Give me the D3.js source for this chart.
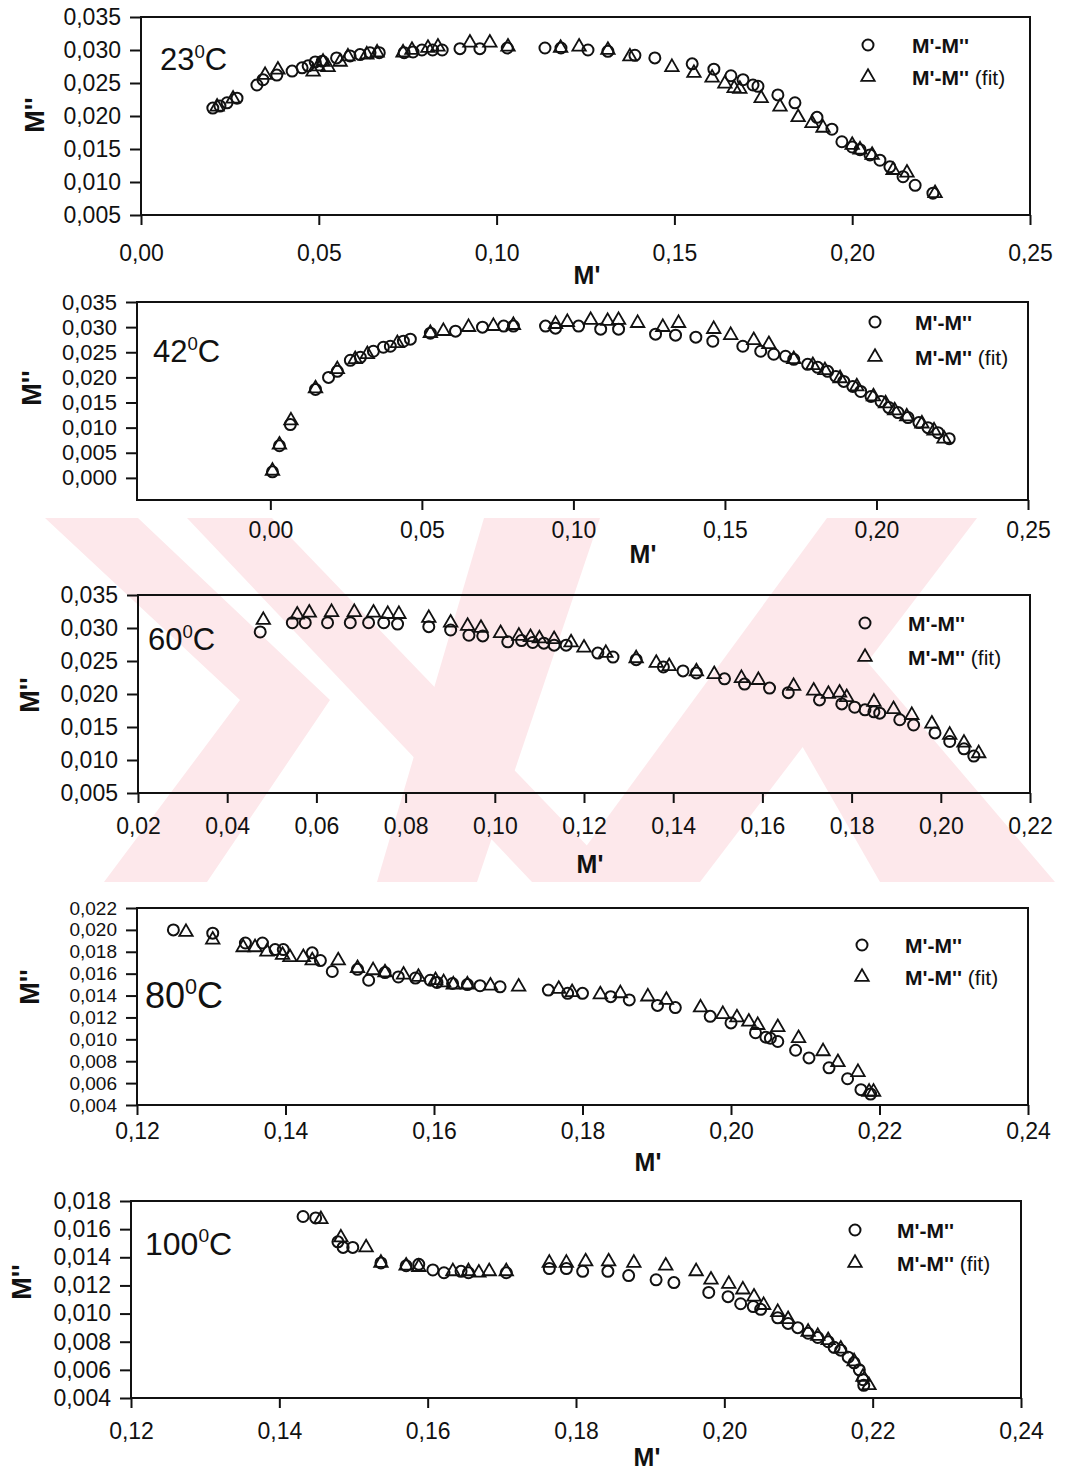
<!DOCTYPE html>
<html>
<head>
<meta charset="utf-8">
<script src="https://cdn.jsdelivr.net/npm/d3@7"></script>
<style>
  body { margin: 0; background: #fff; }
  svg text { font-family: "Liberation Sans", Arial, sans-serif; fill: #111; }
</style>
</head>
<body>
<svg id="chart" width="1079" height="1474"></svg>
<script>
// ---- data: [M', M''] pairs ----
var circ23 = [[0.0202,0.0212],[0.0222,0.0215],[0.0242,0.0220],[0.0270,0.0227],[0.0326,0.0247],[0.0343,0.0255],[0.0382,0.0262],[0.0425,0.0268],[0.0453,0.0273],[0.0470,0.0276],[0.0490,0.0282],[0.0510,0.0283],[0.0550,0.0288],[0.0588,0.0291],[0.0616,0.0293],[0.0644,0.0296],[0.0670,0.0296],[0.0740,0.0296],[0.0765,0.0297],[0.0790,0.0300],[0.0820,0.0300],[0.0847,0.0300],[0.0897,0.0302],[0.0953,0.0302],[0.1030,0.0303],[0.1136,0.0303],[0.1181,0.0303],[0.1257,0.0300],[0.1313,0.0298],[0.1389,0.0292],[0.1445,0.0288],[0.1550,0.0279],[0.1611,0.0271],[0.1659,0.0261],[0.1693,0.0255],[0.1721,0.0247],[0.1735,0.0245],[0.1791,0.0232],[0.1839,0.0220],[0.1901,0.0198],[0.1943,0.0180],[0.1971,0.0161],[0.2000,0.0153],[0.2022,0.0149],[0.2050,0.0141],[0.2078,0.0133],[0.2106,0.0123],[0.2143,0.0108],[0.2177,0.0095],[0.2227,0.0083]];
var fit23 = [[0.0214,0.0214],[0.0259,0.0226],[0.0349,0.0262],[0.0385,0.0270],[0.0484,0.0267],[0.0498,0.0275],[0.0512,0.0282],[0.0526,0.0274],[0.0560,0.0282],[0.0582,0.0290],[0.0635,0.0293],[0.0664,0.0296],[0.0737,0.0296],[0.0762,0.0300],[0.0807,0.0303],[0.0835,0.0305],[0.0925,0.0311],[0.0981,0.0311],[0.1032,0.0305],[0.1180,0.0303],[0.1232,0.0305],[0.1313,0.0300],[0.1375,0.0290],[0.1493,0.0274],[0.1555,0.0265],[0.1606,0.0258],[0.1642,0.0249],[0.1668,0.0242],[0.1684,0.0241],[0.1744,0.0227],[0.1797,0.0214],[0.1848,0.0198],[0.1887,0.0189],[0.1918,0.0182],[0.2000,0.0156],[0.2022,0.0149],[0.2056,0.0141],[0.2115,0.0118],[0.2154,0.0114],[0.2233,0.0083]];

var circ42 = [[0.0007,0.0012],[0.0030,0.0064],[0.0066,0.0106],[0.0149,0.0176],[0.0192,0.0200],[0.0221,0.0212],[0.0264,0.0234],[0.0297,0.0240],[0.0340,0.0252],[0.0373,0.0260],[0.0396,0.0262],[0.0439,0.0272],[0.0462,0.0276],[0.0528,0.0288],[0.0611,0.0292],[0.0700,0.0300],[0.0770,0.0302],[0.0802,0.0302],[0.0908,0.0302],[0.0941,0.0298],[0.1017,0.0302],[0.1090,0.0296],[0.1149,0.0296],[0.1271,0.0286],[0.1337,0.0284],[0.1404,0.0280],[0.1460,0.0272],[0.1559,0.0262],[0.1618,0.0252],[0.1661,0.0246],[0.1700,0.0242],[0.1727,0.0236],[0.1773,0.0226],[0.1806,0.0220],[0.1839,0.0212],[0.1866,0.0202],[0.1892,0.0192],[0.1922,0.0182],[0.1948,0.0172],[0.1982,0.0162],[0.2015,0.0152],[0.2041,0.0140],[0.2071,0.0130],[0.2104,0.0120],[0.2140,0.0110],[0.2170,0.0100],[0.2203,0.0090],[0.2240,0.0078]];
var fit42 = [[0.0007,0.0014],[0.0030,0.0066],[0.0068,0.0114],[0.0149,0.0178],[0.0221,0.0216],[0.0280,0.0236],[0.0320,0.0246],[0.0419,0.0268],[0.0528,0.0288],[0.0571,0.0292],[0.0654,0.0300],[0.0736,0.0302],[0.0802,0.0304],[0.0941,0.0306],[0.0980,0.0310],[0.1057,0.0314],[0.1113,0.0312],[0.1149,0.0314],[0.1212,0.0308],[0.1295,0.0300],[0.1347,0.0308],[0.1463,0.0296],[0.1519,0.0284],[0.1595,0.0274],[0.1645,0.0266],[0.1727,0.0236],[0.1790,0.0224],[0.1830,0.0214],[0.1880,0.0198],[0.1935,0.0182],[0.1990,0.0162],[0.2030,0.0148],[0.2060,0.0134],[0.2100,0.0122],[0.2150,0.0108],[0.2190,0.0094],[0.2223,0.0078]];

var circ60 = [[0.0474,0.0294],[0.0546,0.0308],[0.0575,0.0308],[0.0625,0.0308],[0.0676,0.0308],[0.0717,0.0308],[0.0751,0.0308],[0.0782,0.0306],[0.0852,0.0302],[0.0901,0.0297],[0.0942,0.0289],[0.0973,0.0288],[0.1029,0.0279],[0.1060,0.0281],[0.1085,0.0278],[0.1110,0.0277],[0.1133,0.0274],[0.1160,0.0274],[0.1231,0.0262],[0.1265,0.0256],[0.1317,0.0252],[0.1378,0.0241],[0.1422,0.0235],[0.1452,0.0232],[0.1515,0.0223],[0.1560,0.0215],[0.1616,0.0209],[0.1658,0.0202],[0.1728,0.0191],[0.1778,0.0185],[0.1807,0.0180],[0.1830,0.0176],[0.1850,0.0173],[0.1863,0.0171],[0.1908,0.0161],[0.1939,0.0153],[0.1987,0.0141],[0.2020,0.0128],[0.2052,0.0117],[0.2074,0.0106]];
var fit60 = [[0.0481,0.0312],[0.0557,0.0320],[0.0584,0.0323],[0.0634,0.0324],[0.0685,0.0324],[0.0728,0.0323],[0.0760,0.0321],[0.0785,0.0321],[0.0852,0.0315],[0.0901,0.0308],[0.0939,0.0303],[0.0969,0.0300],[0.1013,0.0292],[0.1054,0.0288],[0.1080,0.0286],[0.1100,0.0284],[0.1133,0.0283],[0.1171,0.0278],[0.1200,0.0270],[0.1249,0.0262],[0.1317,0.0254],[0.1362,0.0247],[0.1391,0.0242],[0.1452,0.0234],[0.1492,0.0230],[0.1553,0.0224],[0.1591,0.0221],[0.1670,0.0212],[0.1715,0.0205],[0.1748,0.0200],[0.1773,0.0202],[0.1789,0.0195],[0.1850,0.0188],[0.1894,0.0177],[0.1935,0.0168],[0.1980,0.0155],[0.2020,0.0138],[0.2052,0.0126],[0.2085,0.0110]];

var circ80 = [[0.1249,0.0200],[0.1302,0.0197],[0.1346,0.0188],[0.1369,0.0188],[0.1386,0.0182],[0.1397,0.0182],[0.1436,0.0179],[0.1447,0.0172],[0.1463,0.0162],[0.1497,0.0164],[0.1512,0.0154],[0.1534,0.0161],[0.1552,0.0157],[0.1575,0.0156],[0.1595,0.0154],[0.1604,0.0152],[0.1625,0.0151],[0.1645,0.0150],[0.1662,0.0149],[0.1689,0.0148],[0.1754,0.0145],[0.1780,0.0142],[0.1800,0.0142],[0.1838,0.0139],[0.1863,0.0136],[0.1901,0.0131],[0.1925,0.0129],[0.1972,0.0121],[0.2000,0.0115],[0.2033,0.0106],[0.2047,0.0102],[0.2053,0.0101],[0.2063,0.0098],[0.2087,0.0090],[0.2105,0.0083],[0.2132,0.0074],[0.2157,0.0064],[0.2175,0.0054],[0.2188,0.0050]];
var fit80 = [[0.1266,0.0198],[0.1302,0.0191],[0.1343,0.0184],[0.1359,0.0184],[0.1375,0.0180],[0.1396,0.0177],[0.1406,0.0175],[0.1424,0.0175],[0.1436,0.0172],[0.1471,0.0172],[0.1497,0.0165],[0.1518,0.0163],[0.1534,0.0161],[0.1559,0.0159],[0.1579,0.0157],[0.1602,0.0154],[0.1613,0.0152],[0.1626,0.0150],[0.1645,0.0150],[0.1676,0.0149],[0.1714,0.0148],[0.1768,0.0146],[0.1786,0.0143],[0.1824,0.0141],[0.1851,0.0142],[0.1888,0.0139],[0.1913,0.0136],[0.1959,0.0129],[0.1989,0.0123],[0.2008,0.0120],[0.2024,0.0116],[0.2036,0.0113],[0.2063,0.0111],[0.2091,0.0101],[0.2124,0.0089],[0.2144,0.0079],[0.2171,0.0070],[0.2186,0.0052],[0.2192,0.0052]];

var circ100 = [[0.1432,0.0169],[0.1449,0.0168],[0.1479,0.0151],[0.1486,0.0147],[0.1499,0.0147],[0.1537,0.0136],[0.1571,0.0134],[0.1588,0.0135],[0.1607,0.0131],[0.1622,0.0129],[0.1645,0.0130],[0.1655,0.0129],[0.1706,0.0129],[0.1764,0.0132],[0.1787,0.0132],[0.1809,0.0130],[0.1843,0.0130],[0.1871,0.0127],[0.1908,0.0124],[0.1932,0.0122],[0.1979,0.0115],[0.2005,0.0112],[0.2022,0.0107],[0.2039,0.0105],[0.2049,0.0103],[0.2072,0.0097],[0.2086,0.0093],[0.2099,0.0090],[0.2113,0.0086],[0.2126,0.0083],[0.2140,0.0080],[0.2148,0.0076],[0.2157,0.0074],[0.2167,0.0069],[0.2175,0.0065],[0.2182,0.0060],[0.2187,0.0053],[0.2188,0.0049]];
var fit100 = [[0.1456,0.0167],[0.1483,0.0154],[0.1517,0.0147],[0.1537,0.0136],[0.1571,0.0134],[0.1588,0.0133],[0.1634,0.0130],[0.1655,0.0130],[0.1669,0.0129],[0.1683,0.0130],[0.1706,0.0130],[0.1764,0.0136],[0.1787,0.0136],[0.1813,0.0137],[0.1844,0.0137],[0.1878,0.0136],[0.1921,0.0134],[0.1962,0.0130],[0.1982,0.0124],[0.2006,0.0121],[0.2025,0.0117],[0.2040,0.0112],[0.2053,0.0106],[0.2072,0.0101],[0.2086,0.0096],[0.2113,0.0087],[0.2126,0.0084],[0.2140,0.0081],[0.2157,0.0075],[0.2175,0.0066],[0.2187,0.0055],[0.2195,0.0049]];

// tick values
var xTicksA = [0, 0.05, 0.10, 0.15, 0.20, 0.25];
var xTicksB = [0.02, 0.04, 0.06, 0.08, 0.10, 0.12, 0.14, 0.16, 0.18, 0.20, 0.22];
var xTicksC = [0.12, 0.14, 0.16, 0.18, 0.20, 0.22, 0.24];
var yTicks23 = [0.005, 0.010, 0.015, 0.020, 0.025, 0.030, 0.035];
var yTicks42 = [0.000, 0.005, 0.010, 0.015, 0.020, 0.025, 0.030, 0.035];
var yTicks80 = [0.004, 0.006, 0.008, 0.010, 0.012, 0.014, 0.016, 0.018, 0.020, 0.022];
var yTicks100 = [0.004, 0.006, 0.008, 0.010, 0.012, 0.014, 0.016, 0.018];

var temps = ["23", "42", "60", "80", "100"];
var legendNames = ["M'-M''", "M'-M''"];

var svg = d3.select("#chart");
var font = "'Liberation Sans', Arial, sans-serif";

// pale pink watermark of the scanned page
var wm = [
  [[45,518],[138,518],[330,700],[207,882],[104,882],[240,700]],
  [[187,518],[272,518],[622,882],[532,882]],
  [[484,518],[600,518],[477,882],[377,882]],
  [[827,518],[977,518],[700,882],[560,882]],
  [[770,690],[840,630],[1055,882],[880,882]]
];
svg.append("g").selectAll("path").data(wm).enter().append("path")
  .attr("d", function(d) { return d3.line()(d) + "Z"; })
  .attr("fill", "#fde8eb");

var fmt2 = function(d) { return d3.format(".2f")(d).replace(".", ","); };
var fmt3 = function(d) { return d3.format(".3f")(d).replace(".", ","); };

function panel(o) {
  var g = svg.append("g");
  var x = d3.scaleLinear().domain(o.xDom).range([o.left, o.right]);
  var y = d3.scaleLinear().domain(o.yDom).range([o.bottom, o.top]);

  // X axis
  var ax = g.append("g")
    .attr("transform", "translate(0," + o.bottom + ")")
    .call(d3.axisBottom(x).tickValues(o.xTicks).tickFormat(fmt2).tickSize(10).tickPadding(o.xPad));
  ax.select(".domain").remove();
  ax.selectAll("line").attr("stroke", "#111").attr("stroke-width", 2);
  ax.selectAll("text").attr("font-size", 23).attr("font-family", font).attr("fill", "#111");

  // Y axis
  var ay = g.append("g")
    .attr("transform", "translate(" + o.left + ",0)")
    .call(d3.axisLeft(y).tickValues(o.yTicks).tickFormat(fmt3).tickSize(11).tickPadding(9));
  ay.select(".domain").remove();
  ay.selectAll("line").attr("stroke", "#111").attr("stroke-width", 2);
  ay.selectAll("text").attr("font-size", o.yFont).attr("font-family", font).attr("fill", "#111");

  // frame
  g.append("rect")
    .attr("x", o.left).attr("y", o.top)
    .attr("width", o.right - o.left).attr("height", o.bottom - o.top)
    .attr("fill", "none").attr("stroke", "#111").attr("stroke-width", 2);

  // points
  g.append("g").selectAll("circle").data(o.circ).enter().append("circle")
    .attr("cx", function(d) { return x(d[0]); })
    .attr("cy", function(d) { return y(d[1]); })
    .attr("r", 5.5)
    .attr("fill", "none").attr("stroke", "#111").attr("stroke-width", 2);

  var tri = d3.symbol().type(d3.symbolTriangle).size(78);
  g.append("g").selectAll("path").data(o.fit).enter().append("path")
    .attr("d", tri)
    .attr("transform", function(d) { return "translate(" + x(d[0]) + "," + y(d[1]) + ")"; })
    .attr("fill", "none").attr("stroke", "#111").attr("stroke-width", 1.8);

  // legend
  g.append("circle").attr("cx", o.legX).attr("cy", o.legY[0]).attr("r", 5.5)
    .attr("fill", "none").attr("stroke", "#111").attr("stroke-width", 2);
  g.append("path").attr("d", tri)
    .attr("transform", "translate(" + o.legX + "," + o.legY[1] + ")")
    .attr("fill", "none").attr("stroke", "#111").attr("stroke-width", 1.8);
  g.append("text").attr("x", o.legText).attr("y", o.legY[0] + 8)
    .attr("font-size", 21).attr("font-weight", "bold").text(legendNames[0]);
  var l2 = g.append("text").attr("x", o.legText).attr("y", o.legY[1] + 8).attr("font-size", 21);
  l2.append("tspan").attr("font-weight", "bold").text(legendNames[1]);
  l2.append("tspan").text(" (fit)");

  // temperature label
  var s = o.tSize;
  var t = g.append("text").attr("x", o.tX).attr("y", o.tY).attr("font-size", s);
  t.append("tspan").text(o.temp);
  t.append("tspan").attr("font-size", s * 0.6).attr("dy", -s * 0.4).text("0");
  t.append("tspan").attr("dy", s * 0.4).text("C");

  // axis titles
  g.append("text").attr("x", o.xlab[0]).attr("y", o.xlab[1])
    .attr("text-anchor", "middle").attr("font-size", 25).attr("font-weight", "bold").text("M'");
  g.append("text")
    .attr("transform", "translate(" + (o.ylab[0] + 9) + "," + o.ylab[1] + ")rotate(-90)")
    .attr("text-anchor", "middle").attr("font-size", 27).attr("font-weight", "bold").text("M''");
}

panel({ left: 141, right: 1030, top: 17, bottom: 215, xDom: [0, 0.25], yDom: [0.005, 0.035],
  xTicks: xTicksA, yTicks: yTicks23, yFont: 23, xPad: 20, circ: circ23, fit: fit23, temp: temps[0],
  tX: 160, tY: 70, tSize: 31, legX: 868, legY: [45, 77], legText: 912, xlab: [587, 284], ylab: [35, 115] });

panel({ left: 137, right: 1028, top: 302, bottom: 500, xDom: [-0.044, 0.25], yDom: [-0.0044, 0.035],
  xTicks: xTicksA, yTicks: yTicks42, yFont: 22, xPad: 12, circ: circ42, fit: fit42, temp: temps[1],
  tX: 153, tY: 362, tSize: 31, legX: 875, legY: [322, 357], legText: 915, xlab: [643, 563], ylab: [32, 388] });

panel({ left: 138, right: 1030, top: 595, bottom: 793, xDom: [0.02, 0.22], yDom: [0.005, 0.035],
  xTicks: xTicksB, yTicks: yTicks23, yFont: 23, xPad: 15, circ: circ60, fit: fit60, temp: temps[2],
  tX: 148, tY: 650, tSize: 31, legX: 865, legY: [623, 657], legText: 908, xlab: [590, 873], ylab: [30, 695] });

panel({ left: 137, right: 1028, top: 908, bottom: 1105, xDom: [0.12, 0.24], yDom: [0.004, 0.022],
  xTicks: xTicksC, yTicks: yTicks80, yFont: 19, xPad: 8, circ: circ80, fit: fit80, temp: temps[3],
  tX: 145, tY: 1008, tSize: 36, legX: 862, legY: [945, 977], legText: 905, xlab: [648, 1171], ylab: [30, 987] });

panel({ left: 131, right: 1021, top: 1201, bottom: 1398, xDom: [0.12, 0.24], yDom: [0.004, 0.018],
  xTicks: xTicksC, yTicks: yTicks100, yFont: 23, xPad: 15, circ: circ100, fit: fit100, temp: temps[4],
  tX: 145, tY: 1255, tSize: 32, legX: 855, legY: [1230, 1263], legText: 897, xlab: [647, 1466], ylab: [22, 1282] });
</script>
</body>
</html>
